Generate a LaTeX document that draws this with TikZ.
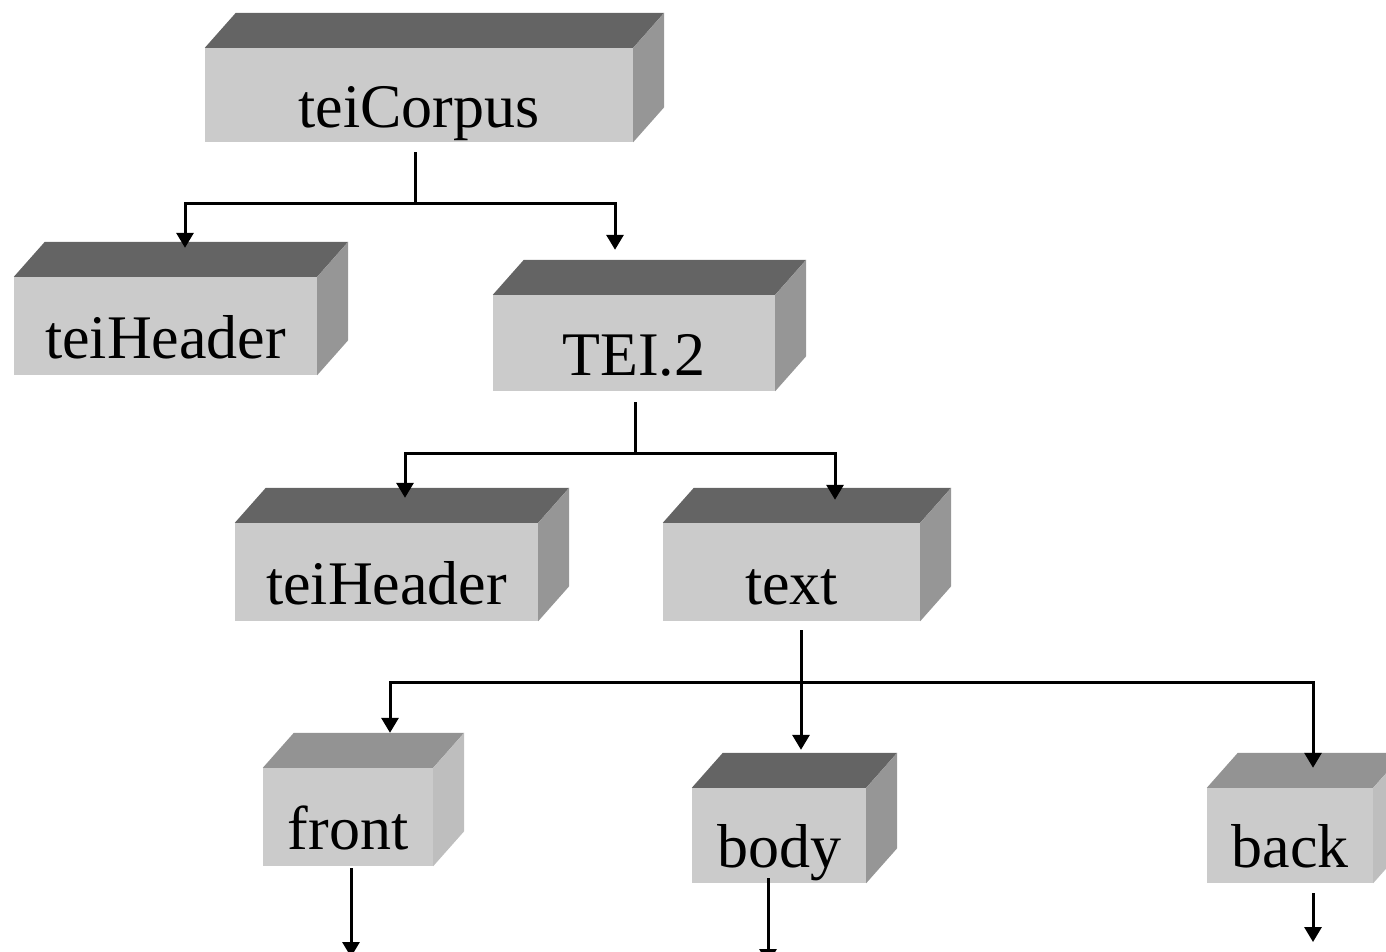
\documentclass[tikz,border=0pt]{standalone}
\usepackage{fontspec}
\setmainfont{Liberation Serif}
\usetikzlibrary{arrows.meta}
\definecolor{facec}{HTML}{CBCBCB}
\definecolor{topdark}{HTML}{646464}
\definecolor{sidedark}{HTML}{969696}
\definecolor{toplight}{HTML}{939393}
\definecolor{sidelight}{HTML}{BEBEBE}
\tikzset{
  face/.style={rectangle, fill=facec, inner sep=0pt, text height=64pt, text depth=0pt,
    font=\fontsize{62}{70}\selectfont},
  link/.style={line width=3pt, black},
  arr/.style={link, -{Triangle[width=17pt,length=15pt]}},
}
\newcommand\cubeparts[3]{%
  \fill[#2] (#1.north west) -- ++(31,-35) -- ([xshift=31pt,yshift=35pt]#1.north east) -- (#1.north east) -- cycle;
  \fill[#3] (#1.north east) -- ++(31,-35) -- ([xshift=31pt,yshift=35pt]#1.south east) -- (#1.south east) -- cycle;
}
\begin{document}
\begin{tikzpicture}[x=1pt,y=-1pt]
\useasboundingbox (0,0) rectangle (1386,951);
\clip (0,0) rectangle (1386,951);
% boxes
\node[face, minimum width=428pt, minimum height=94pt] (corpus) at (419,95) {teiCorpus};
\node[face, minimum width=303pt, minimum height=98pt] (h1) at (165.5,326) {teiHeader};
\node[face, minimum width=282pt, minimum height=96pt] (tei2) at (634,343) {TEI.2};
\node[face, minimum width=303pt, minimum height=98pt] (h2) at (386.5,572) {teiHeader};
\node[face, minimum width=257pt, minimum height=98pt] (text) at (791.5,572) {text};
\node[face, minimum width=170pt, minimum height=98pt] (front) at (348,817) {front};
\node[face, minimum width=174pt, minimum height=95pt] (body) at (779,835.5) {body};
\node[face, minimum width=166pt, minimum height=95pt] (back) at (1290,835.5) {back};
\cubeparts{corpus}{topdark}{sidedark}
\cubeparts{h1}{topdark}{sidedark}
\cubeparts{tei2}{topdark}{sidedark}
\cubeparts{h2}{topdark}{sidedark}
\cubeparts{text}{topdark}{sidedark}
\cubeparts{front}{toplight}{sidelight}
\cubeparts{body}{topdark}{sidedark}
\cubeparts{back}{toplight}{sidelight}
% junctions and free ends
\coordinate (j1) at (415,203);
\coordinate (j2) at (635,453);
\coordinate (j3) at (801,682);
\coordinate (frontout) at (351,957);
\coordinate (bodyout) at (768,964);
\coordinate (backout) at (1313,942);
% connectors
\draw[link] ([xshift=-4pt,yshift=-10pt]corpus.south) -- (j1);
\draw[arr] (j1) -| ([xshift=19.5pt,yshift=29pt]h1.north);
\draw[arr] (j1) -| ([xshift=-19pt,yshift=45pt]tei2.north);
\draw[link] ([xshift=1pt,yshift=-11pt]tei2.south) -- (j2);
\draw[arr] (j2) -| ([xshift=18.5pt,yshift=25pt]h2.north);
\draw[arr] (j2) -| ([xshift=43.5pt,yshift=23pt]text.north);
\draw[arr] ([xshift=9.5pt,yshift=-9pt]text.south) -- ([xshift=22pt,yshift=38pt]body.north);
\draw[arr] (j3) -| ([xshift=42pt,yshift=35pt]front.north);
\draw[arr] (j3) -| ([xshift=23pt,yshift=20pt]back.north);
\draw[arr] ([xshift=3pt,yshift=-2pt]front.south) -- (frontout);
\draw[arr] ([xshift=-11pt,yshift=5pt]body.south) -- (bodyout);
\draw[arr] ([xshift=23pt,yshift=-10pt]back.south) -- (backout);
\end{tikzpicture}
\end{document}
